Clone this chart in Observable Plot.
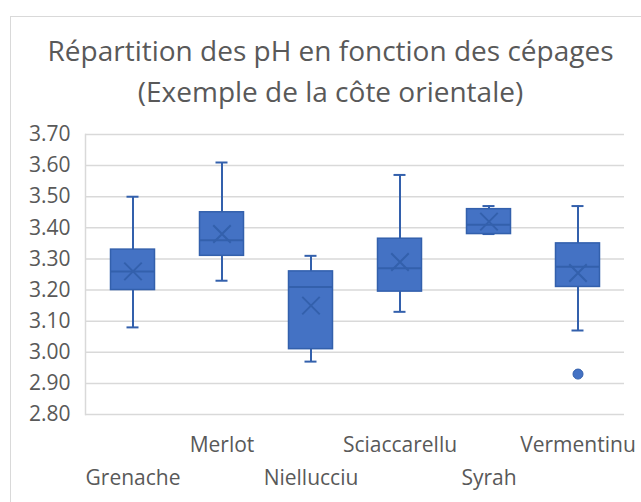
<!DOCTYPE html>
<html>
<head>
<meta charset="utf-8">
<script src="https://cdn.jsdelivr.net/npm/d3@7"></script>
<script src="https://cdn.jsdelivr.net/npm/@observablehq/plot@0.6"></script>
<style>
  body { margin: 0; background: #fff; }
  #wrap { position: relative; width: 641px; height: 502px; overflow: hidden; background: #fff; }
  #frame { position: absolute; left: 10px; top: 16px; width: 700px; height: 600px; border: 1px solid #d9d9d9; box-sizing: border-box; }
  #title { position: absolute; left: 10px; width: 641px; top: 30px; text-align: center; font-family: "Open Sans", sans-serif; font-size: 28px; line-height: 41px; color: #595959; }
  #chart { position: absolute; left: 0; top: 110px; }
</style>
</head>
<body>
<div id="wrap">
  <div id="frame"></div>
  <div id="title">Répartition des pH en fonction des cépages<br>(Exemple de la côte orientale)</div>
  <div id="chart"></div>
</div>
<script>
const cepages = ["Grenache", "Merlot", "Niellucciu", "Sciaccarellu", "Syrah", "Vermentinu"];
const whiskerLow = [3.08, 3.23, 2.97, 3.13, 3.38, 3.07];
const q1 = [3.20, 3.31, 3.01, 3.195, 3.38, 3.21];
const median = [3.26, 3.36, 3.21, 3.27, 3.41, 3.275];
const q3 = [3.33, 3.45, 3.26, 3.365, 3.46, 3.35];
const whiskerHigh = [3.50, 3.61, 3.31, 3.57, 3.47, 3.47];
const mean = [3.26, 3.38, 3.15, 3.29, 3.42, 3.255];
const outlierCepage = ["Vermentinu"];
const outlierValue = [2.93];
const yTicks = [2.80, 2.90, 3.00, 3.10, 3.20, 3.30, 3.40, 3.50, 3.60, 3.70];

const rows = cepages.map((c, i) => ({
  cepage: c, lo: whiskerLow[i], q1: q1[i], med: median[i], q3: q3[i], hi: whiskerHigh[i], mean: mean[i], idx: i
}));
const outliers = outlierCepage.map((c, i) => ({cepage: c, v: outlierValue[i]}));

const fill = "#4472C4";
const dark = "#3360AC";
const font = "'Open Sans', sans-serif";

const chart = Plot.plot({
  width: 641,
  height: 392,
  marginLeft: 85,
  marginRight: 17,
  marginTop: 24,
  marginBottom: 88,
  style: {fontFamily: font, fontSize: "20px", color: "#595959", background: "transparent", overflow: "visible"},
  x: {domain: cepages, padding: 0, axis: null},
  y: {domain: [2.80, 3.70], ticks: yTicks, tickFormat: d3.format(".2f"), label: null},
  marks: [
    Plot.ruleY(yTicks, {stroke: "#d9d9d9", strokeWidth: 1.5}),
    Plot.frame({anchor: "left", stroke: "#d9d9d9", strokeWidth: 1.5}),
    Plot.axisY({ticks: yTicks, tickFormat: d3.format(".2f"), tickSize: 0, tickPadding: 15, fontSize: 21, fill: "#595959", label: null}),
    Plot.ruleX(rows, {x: "cepage", y1: "lo", y2: "hi", stroke: dark, strokeWidth: 2}),
    Plot.tickY(rows, {x: "cepage", y: "lo", stroke: dark, strokeWidth: 2, insetLeft: 38.5, insetRight: 38.5}),
    Plot.tickY(rows, {x: "cepage", y: "hi", stroke: dark, strokeWidth: 2, insetLeft: 38.5, insetRight: 38.5}),
    Plot.barY(rows, {x: "cepage", y1: "q1", y2: "q3", fill: fill, stroke: dark, strokeWidth: 1.5, insetLeft: 22.5, insetRight: 22.5}),
    Plot.tickY(rows, {x: "cepage", y: "med", stroke: dark, strokeWidth: 2, insetLeft: 22.5, insetRight: 22.5}),
    Plot.dot(rows, {x: "cepage", y: "mean", symbol: "times", r: 8, stroke: dark, strokeWidth: 2}),
    Plot.dot(outliers, {x: "cepage", y: "v", r: 5, fill: fill, stroke: dark, strokeWidth: 1}),
    Plot.text(rows.filter(d => d.idx % 2 === 1), {x: "cepage", text: "cepage", frameAnchor: "bottom", lineAnchor: "middle", dy: 31, fontSize: 21, fill: "#595959"}),
    Plot.text(rows.filter(d => d.idx % 2 === 0), {x: "cepage", text: "cepage", frameAnchor: "bottom", lineAnchor: "middle", dy: 64, fontSize: 21, fill: "#595959"})
  ]
});
document.getElementById("chart").appendChild(chart);
</script>
</body>
</html>
